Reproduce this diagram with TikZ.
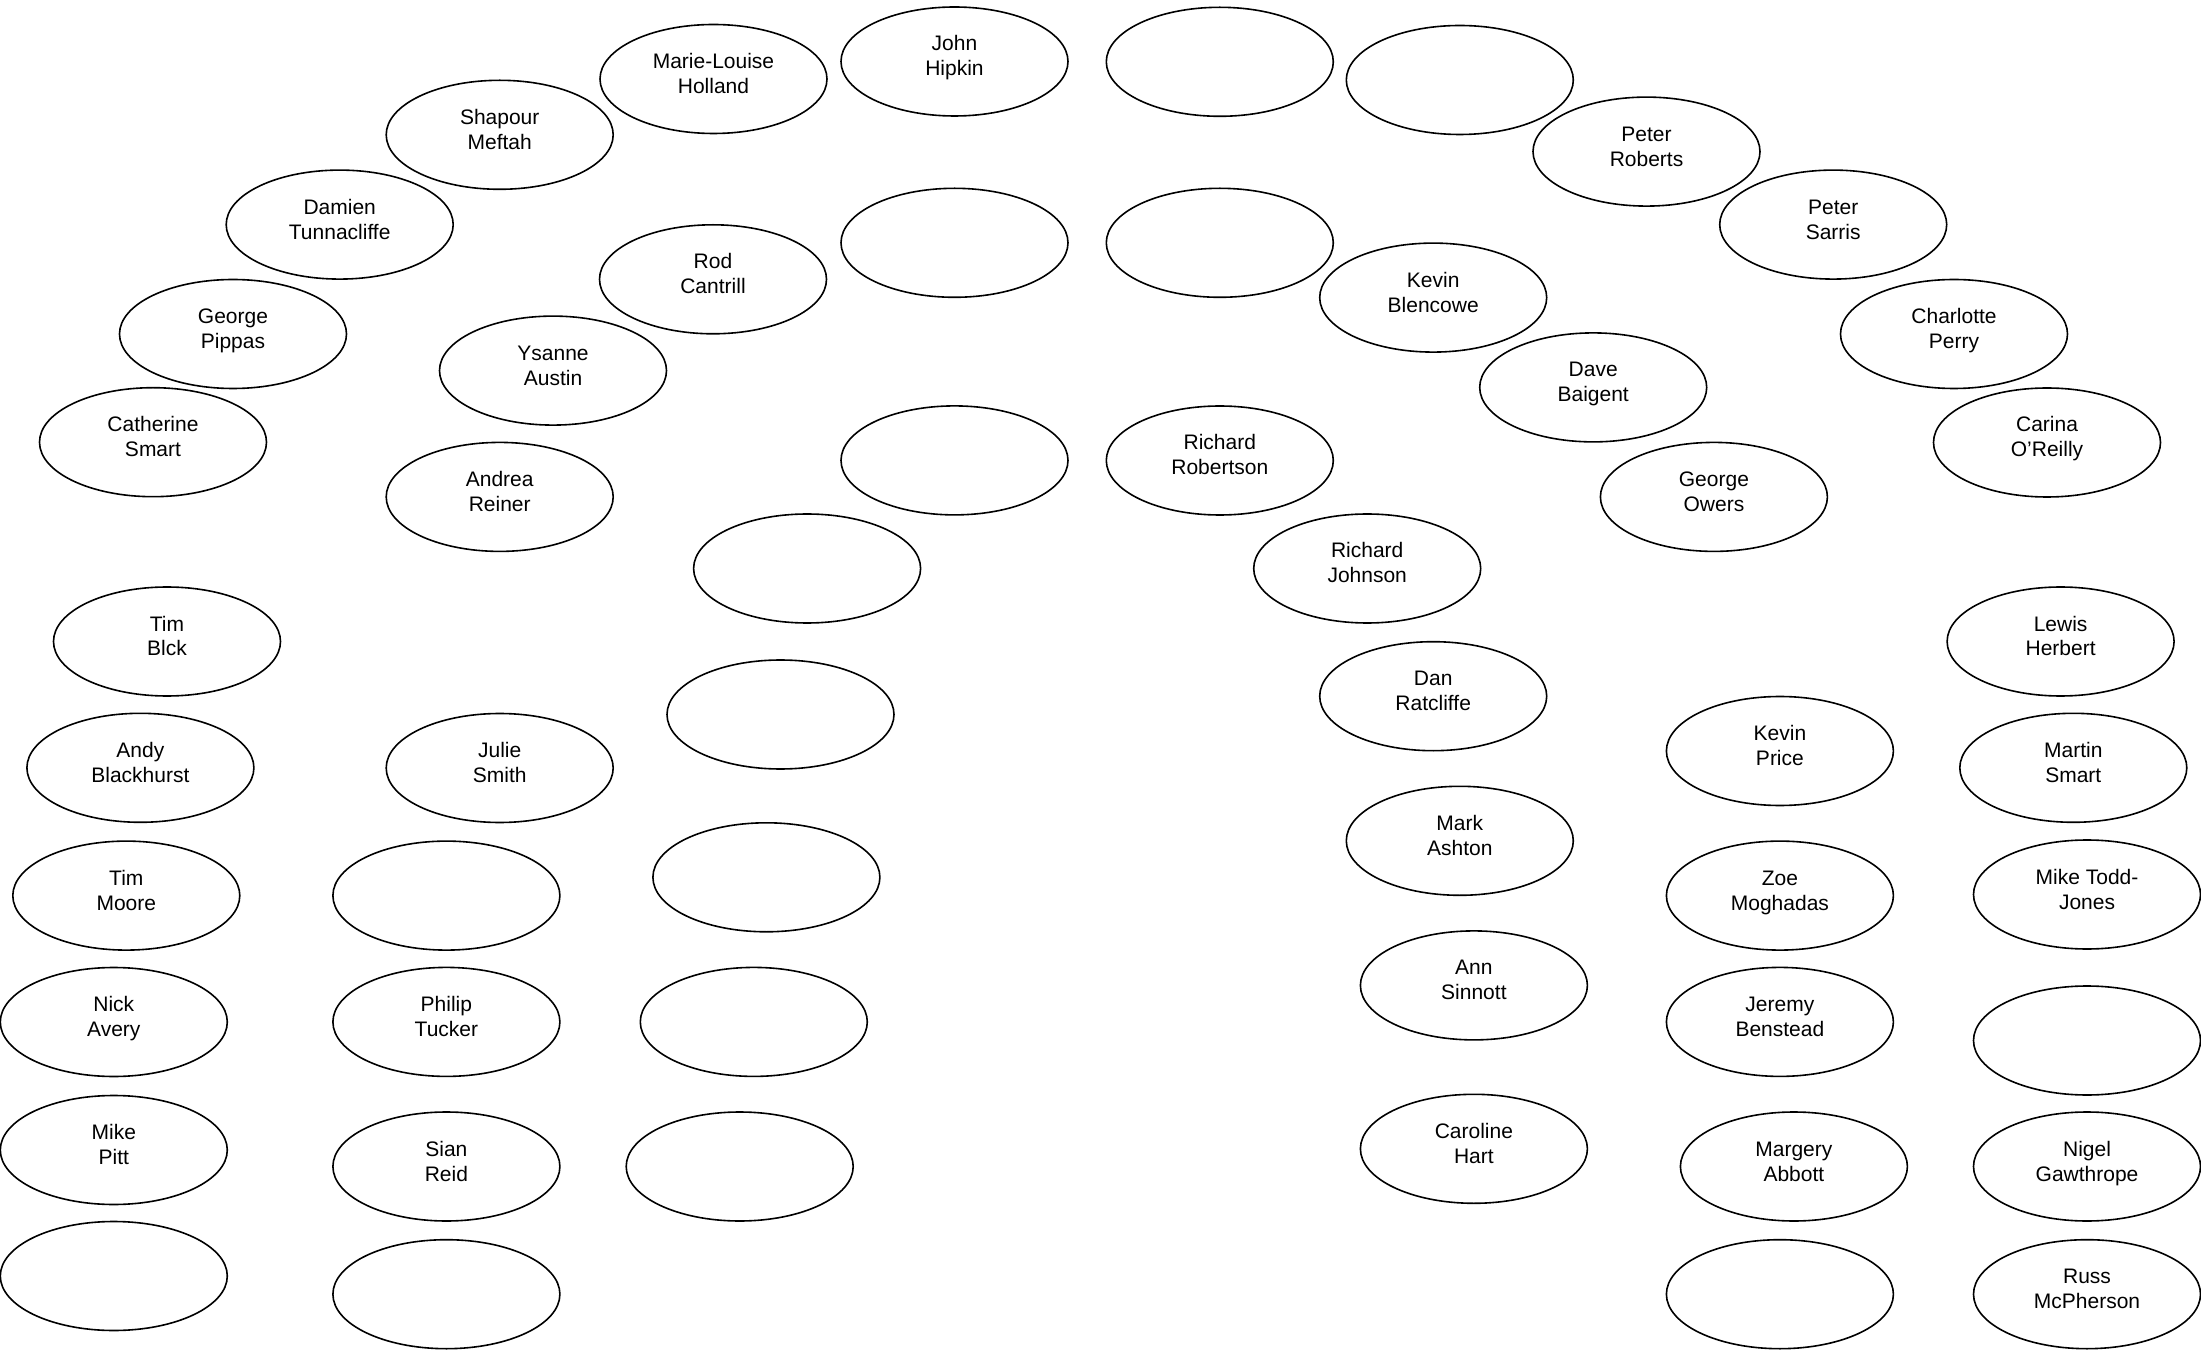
\documentclass[tikz,border=0pt]{standalone}
\usepackage{fontspec}
\setmainfont{Liberation Sans}
\usetikzlibrary{shapes.geometric}
\newcommand\nm[2]{\rule{0pt}{8pt}#1\\#2\rule[-6pt]{0pt}{0pt}}
\begin{document}
\begin{tikzpicture}[x=0.5pt,y=-0.5pt,
  seat/.style={ellipse,draw,line width=0.8pt,minimum width=113.5pt,minimum height=54.5pt,
    inner sep=0pt,align=center,font=\fontsize{10.5}{12.5}\selectfont}]
\useasboundingbox (0,0) rectangle (2201,1352);
% top arc
\node[seat] (hipkin) at (954.5,61.5) {\nm{John}{Hipkin}};
\node[seat] (e1) at (1219.8,61.8) {};
\node[seat] (e2) at (1459.8,80) {};
\node[seat] (holland) at (713.5,79) {\nm{Marie-Louise}{Holland}};
\node[seat] (meftah) at (499.7,134.8) {\nm{Shapour}{Meftah}};
\node[seat] (roberts) at (1646.5,151.6) {\nm{Peter}{Roberts}};
\node[seat] (tunnacliffe) at (339.7,224.6) {\nm{Damien}{Tunnacliffe}};
\node[seat] (sarris) at (1833.2,224.6) {\nm{Peter}{Sarris}};
\node[seat] (e3) at (954.5,242.8) {};
\node[seat] (e4) at (1219.8,242.8) {};
\node[seat] (cantrill) at (713,279.3) {\nm{Rod}{Cantrill}};
\node[seat] (blencowe) at (1433.2,297.6) {\nm{Kevin}{Blencowe}};
\node[seat] (pippas) at (233,334) {\nm{George}{Pippas}};
\node[seat] (perry) at (1954,334) {\nm{Charlotte}{Perry}};
\node[seat] (austin) at (553,370.6) {\nm{Ysanne}{Austin}};
\node[seat] (baigent) at (1593.2,387.4) {\nm{Dave}{Baigent}};
\node[seat] (csmart) at (153,442.2) {\nm{Catherine}{Smart}};
\node[seat] (oreilly) at (2047,442.5) {\nm{Carina}{O’Reilly}};
\node[seat] (e5) at (954.5,460.4) {};
\node[seat] (robertson) at (1219.8,460.5) {\nm{Richard}{Robertson}};
\node[seat] (reiner) at (499.7,496.9) {\nm{Andrea}{Reiner}};
\node[seat] (owers) at (1713.9,496.9) {\nm{George}{Owers}};
\node[seat] (e6) at (807.1,568.5) {};
\node[seat] (johnson) at (1367.2,568.5) {\nm{Richard}{Johnson}};
% lower section
\node[seat] (blck) at (167,641.5) {\nm{Tim}{Blck}};
\node[seat] (herbert) at (2060.6,641.5) {\nm{Lewis}{Herbert}};
\node[seat] (ratcliffe) at (1433.2,696.2) {\nm{Dan}{Ratcliffe}};
\node[seat] (e7) at (780.5,714.5) {};
\node[seat] (blackhurst) at (140.4,767.8) {\nm{Andy}{Blackhurst}};
\node[seat] (jsmith) at (499.7,768) {\nm{Julie}{Smith}};
\node[seat] (price) at (1779.9,751) {\nm{Kevin}{Price}};
\node[seat] (msmart) at (2073.3,767.8) {\nm{Martin}{Smart}};
\node[seat] (ashton) at (1459.8,840.8) {\nm{Mark}{Ashton}};
\node[seat] (moore) at (126.3,895.6) {\nm{Tim}{Moore}};
\node[seat] (e8) at (446.4,895.6) {};
\node[seat] (e9) at (766.4,877.3) {};
\node[seat] (moghadas) at (1779.9,895.6) {\nm{Zoe}{Moghadas}};
\node[seat] (toddjones) at (2087,894.5) {\nm{Mike Todd-}{Jones}};
\node[seat] (sinnott) at (1473.9,985.4) {\nm{Ann}{Sinnott}};
\node[seat] (avery) at (113.8,1022) {\nm{Nick}{Avery}};
\node[seat] (tucker) at (446.4,1021.9) {\nm{Philip}{Tucker}};
\node[seat] (e10) at (753.8,1021.9) {};
\node[seat] (benstead) at (1779.9,1021.9) {\nm{Jeremy}{Benstead}};
\node[seat] (e11) at (2087,1040.5) {};
\node[seat] (pitt) at (113.8,1150) {\nm{Mike}{Pitt}};
\node[seat] (reid) at (446.4,1166.5) {\nm{Sian}{Reid}};
\node[seat] (e12) at (739.7,1166.5) {};
\node[seat] (hart) at (1473.9,1148.8) {\nm{Caroline}{Hart}};
\node[seat] (abbott) at (1793.9,1166.5) {\nm{Margery}{Abbott}};
\node[seat] (gawthrope) at (2087,1166.5) {\nm{Nigel}{Gawthrope}};
\node[seat] (e13) at (113.8,1276) {};
\node[seat] (e14) at (446.4,1294.2) {};
\node[seat] (e15) at (1779.9,1294.2) {};
\node[seat] (mcpherson) at (2087,1294.2) {\nm{Russ}{McPherson}};
\end{tikzpicture}
\end{document}
